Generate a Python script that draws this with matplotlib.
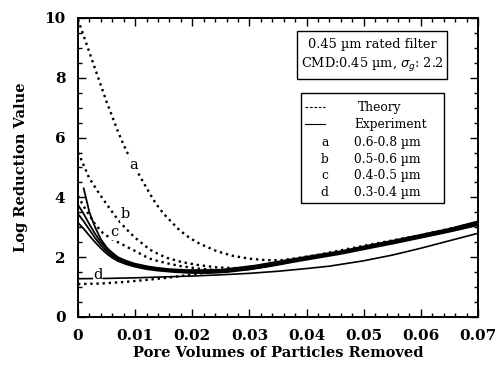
import matplotlib
matplotlib.use("Agg")
import matplotlib.pyplot as plt
from matplotlib.patches import Rectangle
from matplotlib.ticker import MultipleLocator

# theory curves (dotted)
th_a_x = [0, 0.001, 0.002, 0.003, 0.004, 0.005, 0.006, 0.007, 0.008, 0.009, 0.010, 0.0113,
          0.0125, 0.0136, 0.015, 0.0165, 0.0178, 0.0195, 0.0213, 0.0243, 0.027, 0.030, 0.033,
          0.0355, 0.038, 0.042, 0.05, 0.06, 0.07]
th_a_y = [9.95, 9.4, 8.85, 8.3, 7.75, 7.2, 6.7, 6.2, 5.75, 5.35, 5.0, 4.55,
          4.15, 3.8, 3.45, 3.15, 2.9, 2.65, 2.45, 2.2, 2.05, 1.95, 1.9,
          1.9, 1.96, 2.08, 2.38, 2.74, 3.16]
th_b_x = [0, 0.0005, 0.0019, 0.0037, 0.0054, 0.007, 0.0084, 0.010, 0.0113, 0.0126, 0.0136,
          0.0155, 0.0183, 0.021, 0.0243, 0.028, 0.032, 0.036]
th_b_y = [5.5, 5.3, 4.67, 4.13, 3.67, 3.25, 2.95, 2.65, 2.45, 2.25, 2.15,
          1.98, 1.83, 1.74, 1.66, 1.63, 1.68, 1.8]
th_c_x = [0, 0.001, 0.002, 0.003, 0.0044, 0.0058, 0.0072, 0.0087, 0.0101, 0.0115, 0.013,
          0.0155, 0.018, 0.021, 0.025, 0.029, 0.033]
th_c_y = [4.05, 3.7, 3.4, 3.1, 2.8, 2.62, 2.48, 2.33, 2.2, 2.05, 1.92,
          1.8, 1.7, 1.62, 1.56, 1.58, 1.68]
th_d_x = [0, 0.004, 0.008, 0.012, 0.016, 0.020, 0.024, 0.028, 0.032]
th_d_y = [1.1, 1.12, 1.17, 1.24, 1.32, 1.42, 1.52, 1.62, 1.72]

# experiment curves (solid)
ex1_x = [0.001, 0.002, 0.003, 0.004, 0.005, 0.006, 0.007, 0.0084, 0.010, 0.012, 0.0136, 0.016,
         0.019, 0.022, 0.025, 0.028, 0.031, 0.034, 0.038, 0.042, 0.046, 0.051, 0.055, 0.060,
         0.065, 0.070]
ex1_y = [4.3, 3.5, 3.0, 2.6, 2.33, 2.15, 2.0, 1.88, 1.78, 1.7, 1.65, 1.6,
         1.57, 1.57, 1.58, 1.65, 1.72, 1.82, 1.95, 2.08, 2.2, 2.4, 2.55, 2.75,
         2.95, 3.2]
ex_x = [0, 0.001, 0.002, 0.003, 0.004, 0.005, 0.006, 0.007, 0.0085, 0.010, 0.012, 0.014,
        0.017, 0.020, 0.023, 0.026, 0.030, 0.034, 0.038, 0.042, 0.046, 0.051, 0.055, 0.060,
        0.065, 0.070]
ex2_y = [3.75, 3.45, 3.1, 2.78, 2.5, 2.28, 2.1, 1.97, 1.84, 1.75, 1.67, 1.61,
         1.56, 1.53, 1.53, 1.56, 1.66, 1.78, 1.92, 2.05, 2.18, 2.37, 2.52, 2.72,
         2.92, 3.15]
ex3_y = [3.45, 3.2, 2.92, 2.64, 2.4, 2.2, 2.04, 1.92, 1.8, 1.72, 1.64, 1.58,
         1.53, 1.5, 1.5, 1.53, 1.62, 1.74, 1.88, 2.01, 2.14, 2.33, 2.48, 2.68,
         2.88, 3.1]
ex4_y = [3.15, 2.95, 2.72, 2.5, 2.3, 2.12, 1.98, 1.87, 1.76, 1.68, 1.6, 1.55,
         1.5, 1.47, 1.47, 1.5, 1.59, 1.71, 1.85, 1.98, 2.11, 2.3, 2.45, 2.65,
         2.85, 3.07]
exd_x = [0, 0.005, 0.010, 0.015, 0.020, 0.025, 0.030, 0.035, 0.040, 0.044, 0.050, 0.055,
         0.060, 0.065, 0.070]
exd_y = [1.28, 1.29, 1.31, 1.34, 1.37, 1.41, 1.46, 1.53, 1.62, 1.7, 1.88, 2.07,
         2.3, 2.55, 2.8]

curve_labels = ['a', 'b', 'c', 'd']
label_x = [0.0098, 0.0082, 0.0064, 0.0035]
label_y = [5.1, 3.43, 2.83, 1.42]
sizes = ['0.6-0.8 µm', '0.5-0.6 µm', '0.4-0.5 µm', '0.3-0.4 µm']
xtick_vals = [0, 0.01, 0.02, 0.03, 0.04, 0.05, 0.06, 0.07]
xtick_text = ['0', '0.01', '0.02', '0.03', '0.04', '0.05', '0.06', '0.07']

plt.rcParams['font.family'] = 'DejaVu Serif'

fig = plt.figure(figsize=(4.98, 3.68), dpi=100)
ax = fig.add_axes([0.1566, 0.1386, 0.8032, 0.8125])

dot = (0, (1.0, 1.6))
for xs, ys in [(th_a_x, th_a_y), (th_b_x, th_b_y), (th_c_x, th_c_y), (th_d_x, th_d_y)]:
    ax.plot(xs, ys, color='black', lw=1.7, linestyle=dot)

ax.plot(ex1_x, ex1_y, color='black', lw=1.3)
for ys in [ex2_y, ex3_y, ex4_y]:
    ax.plot(ex_x, ys, color='black', lw=1.3)
ax.plot(exd_x, exd_y, color='black', lw=1.2)

for lab, lx, ly in zip(curve_labels, label_x, label_y):
    ax.text(lx, ly, lab, fontsize=10.5, ha='center', va='center',
            bbox=dict(facecolor='white', edgecolor='none', pad=0.2))

ax.set_xlim(0, 0.07)
ax.set_ylim(0, 10)
ax.set_xticks(xtick_vals)
ax.set_xticklabels(xtick_text)
ax.xaxis.set_minor_locator(MultipleLocator(0.002))
ax.yaxis.set_major_locator(MultipleLocator(2))
ax.yaxis.set_minor_locator(MultipleLocator(0.5))
ax.tick_params(which='both', direction='in', top=True, right=True, width=1.0)
ax.tick_params(which='major', length=6, labelsize=11, pad=9)
ax.tick_params(which='minor', length=3)
for lab in ax.get_xticklabels() + ax.get_yticklabels():
    lab.set_fontweight('bold')
for s in ax.spines.values():
    s.set_linewidth(1.4)

ax.set_xlabel('Pore Volumes of Particles Removed', fontsize=10.5, fontweight='bold', labelpad=2)
ax.set_ylabel('Log Reduction Value', fontsize=10.5, fontweight='bold', labelpad=12)

# info box
ax.add_patch(Rectangle((0.5475, 0.796), 0.375, 0.16, transform=ax.transAxes,
                       fill=False, lw=1.0, zorder=5))
ax.text(0.735, 0.91, '0.45 µm rated filter', transform=ax.transAxes,
        ha='center', va='center', fontsize=9.3)
ax.text(0.735, 0.843, r'CMD:0.45 µm, $\sigma_g$: 2.2', transform=ax.transAxes,
        ha='center', va='center', fontsize=9.3)

# legend box
ax.add_patch(Rectangle((0.5575, 0.381), 0.3575, 0.368, transform=ax.transAxes,
                       fill=False, lw=1.0, zorder=5))
ax.plot([0.5675, 0.6175], [0.702, 0.702], transform=ax.transAxes, color='black',
        lw=0.8, linestyle=(0, (2.5, 1.5)))
ax.plot([0.5675, 0.6175], [0.645, 0.645], transform=ax.transAxes, color='black', lw=0.8)
ax.text(0.70, 0.702, 'Theory', transform=ax.transAxes, va='center', fontsize=8.8)
ax.text(0.69, 0.645, 'Experiment', transform=ax.transAxes, va='center', fontsize=8.8)
row_y = [0.582, 0.528, 0.472, 0.418]
for lab, sz, ry in zip(curve_labels, sizes, row_y):
    ax.text(0.617, ry, lab, transform=ax.transAxes, ha='center', va='center', fontsize=8.8)
    ax.text(0.69, ry, sz, transform=ax.transAxes, va='center', fontsize=8.8)

fig.savefig('out.png', dpi=100)
